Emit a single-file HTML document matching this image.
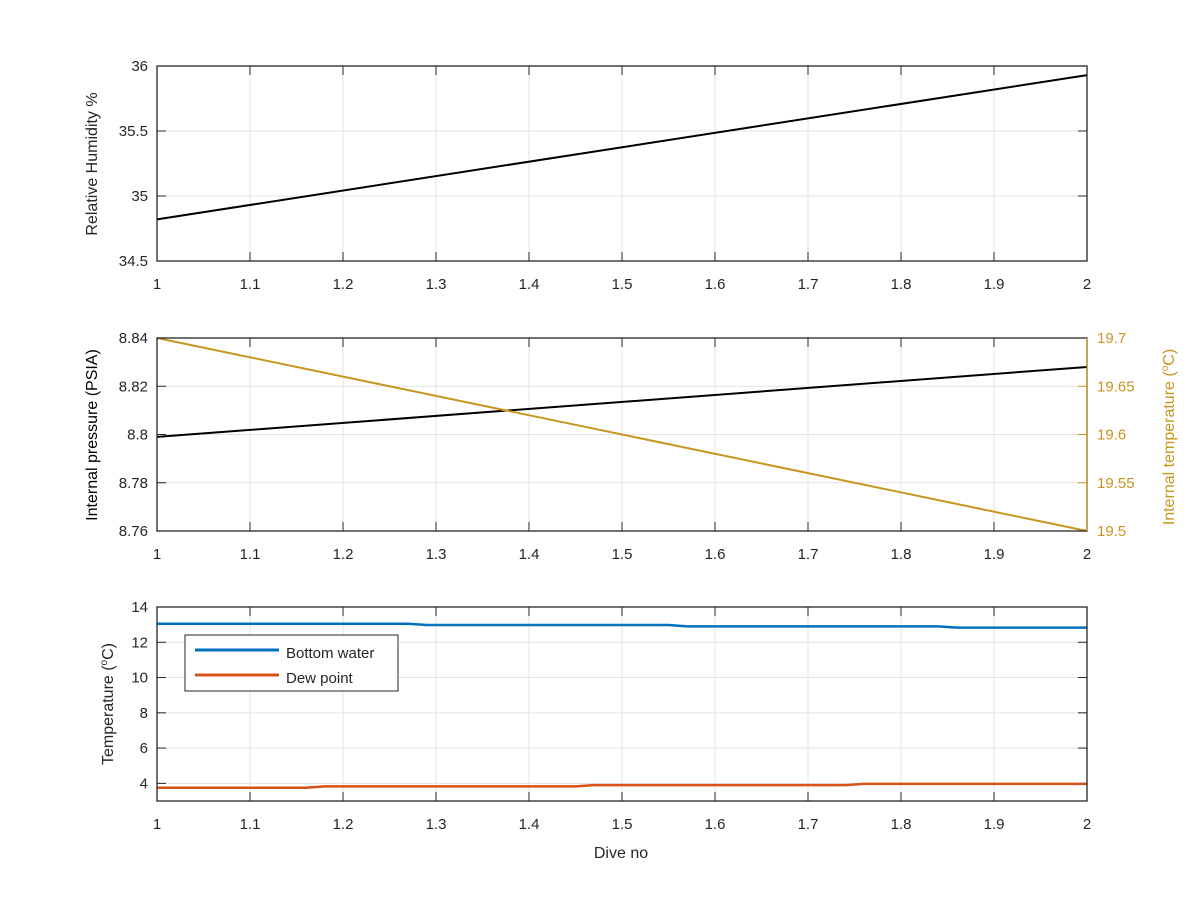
<!DOCTYPE html>
<html><head><meta charset="utf-8"><style>
body{margin:0;background:#fff}
svg text{font-family:"Liberation Sans",sans-serif;font-size:15px;fill:#262626}
svg text.title{font-size:16px}
</style></head><body>
<svg id="c" width="1200" height="900" xmlns="http://www.w3.org/2000/svg"></svg>
<script>
const xTicks=[1,1.1,1.2,1.3,1.4,1.5,1.6,1.7,1.8,1.9,2];
const xTickLabels=["1","1.1","1.2","1.3","1.4","1.5","1.6","1.7","1.8","1.9","2"];
const rhX=[1,2];
const rhY=[34.82,35.93];
const rhTicks=[34.5,35,35.5,36];
const rhTickLabels=["34.5","35","35.5","36"];
const presX=[1,2];
const presY=[8.799,8.828];
const presTicks=[8.76,8.78,8.8,8.82,8.84];
const presTickLabels=["8.76","8.78","8.8","8.82","8.84"];
const tempIntX=[1,2];
const tempIntY=[19.7,19.5];
const tempIntTicks=[19.5,19.55,19.6,19.65,19.7];
const tempIntTickLabels=["19.5","19.55","19.6","19.65","19.7"];
const bwX=[1,1.27,1.29,1.55,1.57,1.84,1.86,2];
const bwY=[13.05,13.05,12.98,12.98,12.9,12.9,12.83,12.83];
const dpX=[1,1.16,1.18,1.45,1.47,1.74,1.76,2];
const dpY=[3.75,3.75,3.83,3.83,3.9,3.9,3.97,3.97];
const tTicks=[4,6,8,10,12,14];
const tTickLabels=["4","6","8","10","12","14"];

const svg=document.getElementById('c');
const NS="http://www.w3.org/2000/svg";
const L=157,R=1087;
function el(tag,attrs,name,parent){const e=document.createElementNS(NS,tag);for(const k in attrs)e.setAttribute(k,attrs[k]);


(parent||svg).appendChild(e);return e;}
function txt(x,y,s,name,opts){const t=el('text',Object.assign({x:x,y:y},opts||{}),name);t.textContent=s;return t;}
const sx=v=>L+(v-1)*(R-L);
function axes(top,bot,ymin,ymax,yt,ytl,name,rightTicks){
  const sy=v=>bot-(v-ymin)/(ymax-ymin)*(bot-top);
  const g=el('g',{},name);
  xTicks.forEach((v,i)=>{const x=sx(v);
    el('line',{x1:x,x2:x,y1:top,y2:bot,stroke:'#e3e3e3','stroke-width':1},'x-grid-line',g);
    el('line',{x1:x,x2:x,y1:top,y2:top+9,stroke:'#262626'},'x-tick',g);
    el('line',{x1:x,x2:x,y1:bot,y2:bot-9,stroke:'#262626'},'x-tick',g);
    txt(x,bot+28,xTickLabels[i],'x-tick-label',{'text-anchor':'middle'});});
  yt.forEach((v,i)=>{const y=sy(v);
    el('line',{x1:L,x2:R,y1:y,y2:y,stroke:'#e3e3e3'},'y-grid-line',g);
    el('line',{x1:L,x2:L+9,y1:y,y2:y,stroke:'#262626'},'y-tick',g);
    if(!rightTicks) el('line',{x1:R,x2:R-9,y1:y,y2:y,stroke:'#262626'},'y-tick',g);
    txt(L-9,y+5,ytl[i],'y-tick-label',{'text-anchor':'end'});});
  return sy;
}
function frame(top,bot,name,rc){el('rect',{x:L,y:top,width:R-L,height:bot-top,fill:'none',stroke:'#262626','stroke-width':1.3},name);
 if(rc) el('line',{x1:R,x2:R,y1:top,y2:bot,stroke:rc,'stroke-width':1.3},'right-axis-line');}
function line(xs,ys,sy,color,w,name){el('polyline',{points:xs.map((x,i)=>sx(x)+','+sy(ys[i])).join(' '),fill:'none',stroke:color,'stroke-width':w},name);}

// Panel 1
let sy1=axes(66,261,34.5,36,rhTicks,rhTickLabels,'humidity-axes');
line(rhX,rhY,sy1,'#000',2,'humidity-line');
frame(66,261,'humidity-frame');
txt(0,0,'Relative Humidity %','humidity-y-title',{class:'title',transform:'translate(97,164) rotate(-90)','text-anchor':'middle'});

// Panel 2
let sy2=axes(338,531,8.76,8.84,presTicks,presTickLabels,'pressure-axes',true);
const gold='#c8961e';
const syR=v=>531-(v-19.5)/(0.2)*(531-338);
tempIntTicks.forEach((v,i)=>{const y=syR(v);
  el('line',{x1:R,x2:R-9,y1:y,y2:y,stroke:gold},'right-y-tick');
  txt(R+10,y+5,tempIntTickLabels[i],'right-y-tick-label',{style:'fill:'+gold});});
line(presX,presY,sy2,'#000',2,'pressure-line');
line(tempIntX,tempIntY,syR,gold,2,'internal-temp-line');
frame(338,531,'pressure-frame',gold);
txt(0,0,'Internal pressure (PSIA)','pressure-y-title',{class:'title',transform:'translate(97,435) rotate(-90)','text-anchor':'middle',style:'fill:#000'});
const rt=txt(0,0,'','internal-temp-y-title',{class:'title',transform:'translate(1174,437) rotate(-90)','text-anchor':'middle',style:'fill:'+gold});
rt.innerHTML='Internal temperature (<tspan dy="-6" font-size="10">o</tspan><tspan dy="6">C)</tspan>';

// Panel 3
let sy3=axes(607,801,3,14,tTicks,tTickLabels,'temperature-axes');
line(bwX,bwY,sy3,'#0072BD',2.5,'bottom-water-line');
line(dpX,dpY,sy3,'#D95319',2.5,'dew-point-line');
frame(607,801,'temperature-frame');
const tt=txt(0,0,'','temperature-y-title',{class:'title',transform:'translate(113,704) rotate(-90)','text-anchor':'middle'});
tt.innerHTML='Temperature (<tspan dy="-6" font-size="10">o</tspan><tspan dy="6">C)</tspan>';
txt(621,858,'Dive no','x-axis-title',{class:'title','text-anchor':'middle'});
// legend
const lg=el('g',{},'legend');
el('rect',{x:185,y:635,width:213,height:56,fill:'#fff',stroke:'#262626'},'legend-box',lg);
el('line',{x1:195,x2:279,y1:650,y2:650,stroke:'#0072BD','stroke-width':3},'legend-swatch-bottom-water',lg);
txt(286,658,'Bottom water','legend-label-bottom-water');
el('line',{x1:195,x2:279,y1:675,y2:675,stroke:'#D95319','stroke-width':3},'legend-swatch-dew-point',lg);
txt(286,683,'Dew point','legend-label-dew-point');
</script>
</body></html>
